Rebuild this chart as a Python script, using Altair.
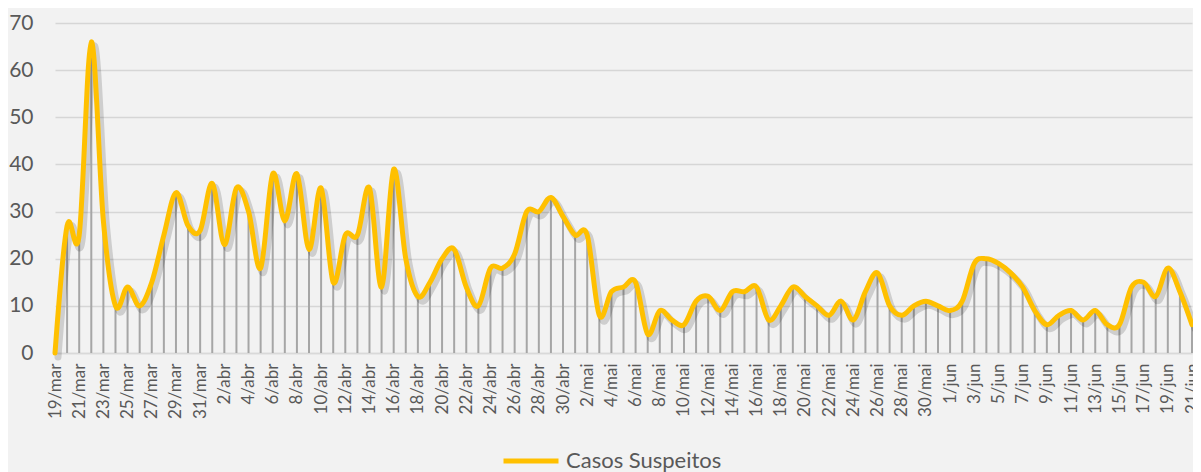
import altair as alt
import pandas as pd

# Casos suspeitos por dia (19/mar a 21/jun)
casos = [0, 27, 25, 66, 28, 10, 14, 10, 15, 25, 34, 27, 26,
         36, 23, 35, 30, 18, 38, 28, 38, 22, 35, 15, 25, 25, 35, 14, 39, 20,
         12, 15, 20, 22, 14, 10, 18, 18, 21, 30, 30, 33, 29,
         25, 25, 8, 13, 14, 15, 4, 9, 7, 6, 11, 12, 9, 13, 13, 14, 7, 10, 14,
         12, 10, 8, 11, 7, 13, 17, 10, 8, 10, 11, 10,
         9, 11, 19, 20, 19, 17, 14, 9, 6, 8, 9, 7, 9, 6, 6, 14, 15, 12, 18, 13, 6]

meses = {3: "mar", 4: "abr", 5: "mai", 6: "jun"}
datas = pd.date_range("2020-03-19", "2020-06-21", freq="D")
rotulos = [f"{d.day}/{meses[d.month]}" for d in datas]
rotulos_eixo = rotulos[::2]
serie = "Casos Suspeitos"
y_ticks = [0, 10, 20, 30, 40, 50, 60, 70]

df = pd.DataFrame({"dia": rotulos, "casos": casos, "serie": [serie] * len(casos)})

FONT = "Lato"
TXT = "#595959"

x = alt.X(
    "dia:O",
    sort=rotulos,
    scale=alt.Scale(type="point", padding=0),
    axis=alt.Axis(
        values=rotulos_eixo,
        labelAngle=-90,
        labelFontSize=17,
        labelColor=TXT,
        labelFont=FONT,
        labelPadding=10,
        labelOverlap=False,
        ticks=False,
        domainColor="#d9d9d9",
        domainWidth=1.5,
        grid=False,
        title=None,
    ),
)
y = alt.Y(
    "casos:Q",
    scale=alt.Scale(domain=[0, 70], nice=False, zero=True),
    axis=alt.Axis(
        values=y_ticks,
        labelFontSize=21,
        labelColor=TXT,
        labelFont=FONT,
        labelPadding=22,
        ticks=False,
        domain=False,
        gridColor="#d6d6d6",
        gridWidth=1.5,
        title=None,
    ),
)

base = alt.Chart(df)

rules = base.mark_rule(color="#a6a6a6", strokeWidth=2).encode(
    x=x, y=y, y2=alt.datum(0)
)

shadow = base.mark_line(
    interpolate="cardinal", color="#000000", opacity=0.15,
    strokeWidth=7, xOffset=3, yOffset=4, strokeCap="round", strokeJoin="round"
).encode(x=x, y="casos:Q")

line = base.mark_line(
    interpolate="cardinal", strokeWidth=5, strokeCap="round", strokeJoin="round"
).encode(
    x=x,
    y="casos:Q",
    color=alt.Color(
        "serie:N",
        scale=alt.Scale(domain=[serie], range=["#FFC000"]),
        legend=alt.Legend(
            orient="none",
            legendX=446,
            legendY=408,
            title=None,
            symbolType="stroke",
            symbolSize=3025,
            symbolStrokeWidth=5,
            labelFontSize=22,
            labelColor=TXT,
            labelFont=FONT,
            labelOffset=5,
            padding=0,
        ),
    ),
)

chart = (
    alt.layer(rules, shadow, line)
    .properties(
        width=1137,
        height=330,
        autosize="none",
        padding={"left": 47, "top": 15, "right": 1, "bottom": 119},
        background="#f2f2f2",
    )
    .configure_view(stroke=None)
)

chart.save("out.html", embed_options={"renderer": "svg", "actions": False})
